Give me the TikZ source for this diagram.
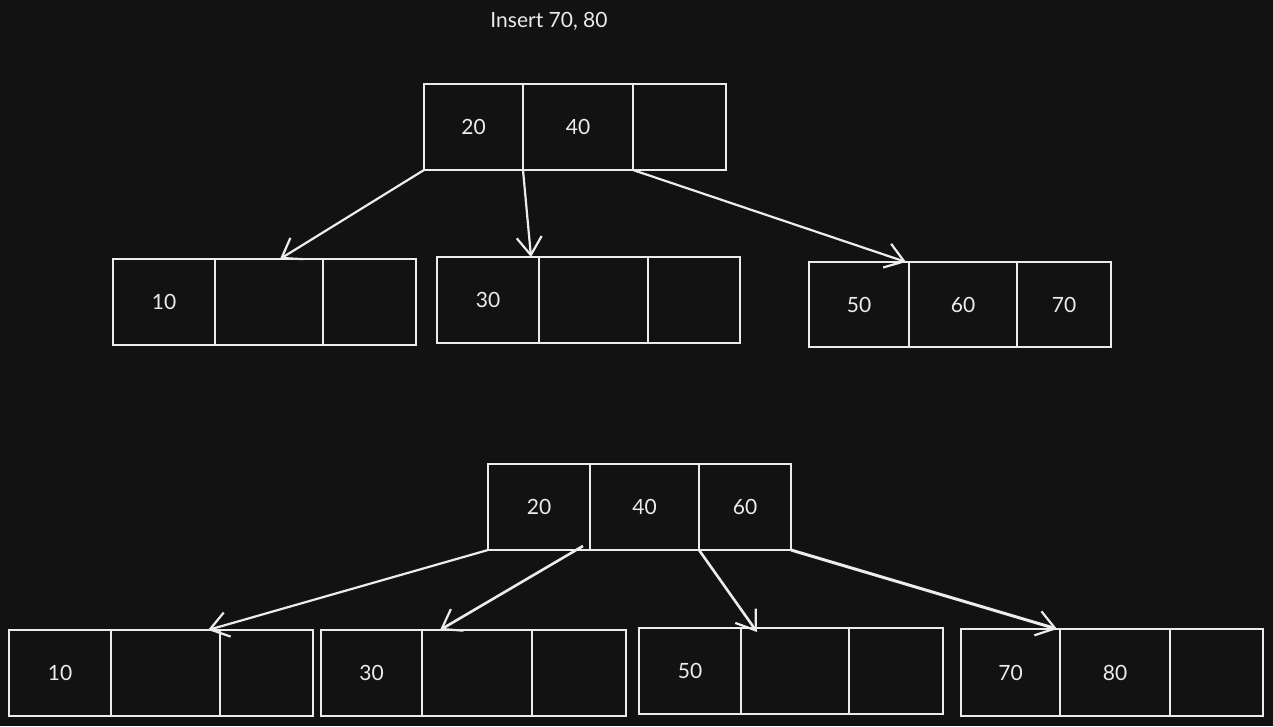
\documentclass[tikz,border=0pt]{standalone}
\usepackage{fontspec}
\setmainfont{Lato}
\usetikzlibrary{arrows.meta}
\definecolor{bgdark}{HTML}{121212}
\definecolor{ink}{HTML}{ECECEC}
\begin{document}
\begin{tikzpicture}[x=1pt,y=-1pt,
  cell/.style={draw=ink,line width=2.2pt,inner sep=0pt,outer sep=0pt,
    minimum height=86pt,text=ink,font=\fontsize{21}{24}\selectfont},
  link/.style={draw=ink,line width=2.2pt,
    -{Straight Barb[length=18pt,width=25pt,line width=2.2pt]}},
  title/.style={text=ink,font=\fontsize{21}{24}\selectfont}]
% canvas
\fill[bgdark] (0,0) rectangle (1273,726);
\useasboundingbox (0,0) rectangle (1273,726);

\node[title] (head) at (549,21) {Insert 70, 80};

% ---- before the split ----
\node[cell,minimum width=99pt]  (T1) at (473.5,127) {20};
\node[cell,minimum width=110pt] (T2) at (578,127)   {40};
\node[cell,minimum width=93pt]  (T3) at (679.5,127) {};

\node[cell,minimum width=102pt] (A1) at (164,302)   {10};
\node[cell,minimum width=108pt] (A2) at (269,302)   {};
\node[cell,minimum width=93pt]  (A3) at (369.5,302) {};

\node[cell,minimum width=102pt] (B1) at (488,300)   {30};
\node[cell,minimum width=109pt] (B2) at (593.5,300) {};
\node[cell,minimum width=92pt]  (B3) at (694,300)   {};

\node[cell,minimum width=100pt,minimum height=85pt] (C1) at (859,304.5)  {50};
\node[cell,minimum width=108pt,minimum height=85pt] (C2) at (963,304.5)  {60};
\node[cell,minimum width=94pt,minimum height=85pt]  (C3) at (1064,304.5) {70};

\draw[link] (T1.south west) -- ([xshift=11pt]A2.north);
\draw[link] (T2.south west) -- ([xshift=-8pt]B1.north east);
\draw[link] (T3.south west) -- ([xshift=-3pt]C1.north east);

% ---- after the split ----
\node[cell,minimum width=102pt] (R1) at (539,507)   {20};
\node[cell,minimum width=109pt] (R2) at (644.5,507) {40};
\node[cell,minimum width=92pt]  (R3) at (745,507)   {60};

\node[cell,minimum width=102pt] (P1) at (60,673)    {10};
\node[cell,minimum width=109pt] (P2) at (165.5,673) {};
\node[cell,minimum width=93pt]  (P3) at (266.5,673) {};

\node[cell,minimum width=101pt] (Q1) at (371.5,673) {30};
\node[cell,minimum width=110pt] (Q2) at (477,673)   {};
\node[cell,minimum width=94pt]  (Q3) at (579,673)   {};

\node[cell,minimum width=102pt] (S1) at (690,671)   {50};
\node[cell,minimum width=108pt] (S2) at (795,671)   {};
\node[cell,minimum width=94pt]  (S3) at (896,671)   {};

\node[cell,minimum width=99pt,minimum height=87pt]  (U1) at (1010.5,672.5) {70};
\node[cell,minimum width=110pt,minimum height=87pt] (U2) at (1115,672.5)   {80};
\node[cell,minimum width=93pt,minimum height=87pt]  (U3) at (1216.5,672.5) {};

\draw[link] (R1.south west) -- ([xshift=-12pt]P2.north east);
\draw[link,line width=2.6pt] ([xshift=-7pt,yshift=4pt]R1.south east) -- ([xshift=18pt]Q2.north west);
\draw[link,line width=2.6pt] (R3.south west) -- ([xshift=16pt,yshift=-4pt]S2.north west);
\draw[link,line width=3pt] (R3.south east) -- ([xshift=-3pt]U1.north east);
\end{tikzpicture}
\end{document}
